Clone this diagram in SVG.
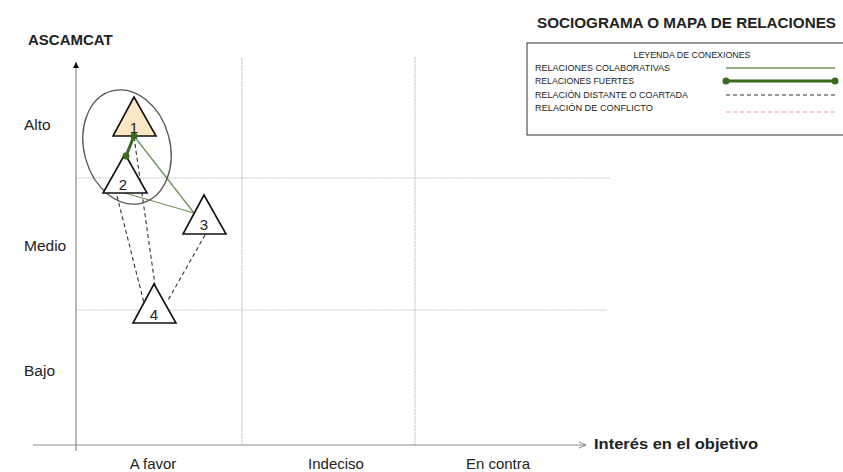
<svg xmlns="http://www.w3.org/2000/svg" width="843" height="472" viewBox="0 0 843 472">
<defs>
<style>
.t{font-family:"Liberation Sans",Arial,sans-serif;fill:#222}
.b{font-weight:bold}
.grid{stroke:#c4c4c4;stroke-width:1.2;stroke-dasharray:1.5 0.8;fill:none}
.axis{stroke:#8a8a8a;stroke-width:1.2;fill:none}
.tri{stroke:#111;stroke-width:1.6;fill:#fff}
.collab{stroke:#6e9358;stroke-width:1.3;fill:none}
.strong{stroke:#3b6a1f;stroke-width:3;fill:none}
.dist{stroke:#333;stroke-width:1.1;stroke-dasharray:4 3;fill:none}
.conf{stroke:#f0a0a8;stroke-width:1.1;stroke-dasharray:4 3;fill:none}
.dot{fill:#3b6a1f}
.lg{font-size:8.5px}
</style>
<marker id="up" viewBox="0 0 10 10" refX="10" refY="5" markerWidth="7" markerHeight="6" orient="auto" markerUnits="userSpaceOnUse">
<path d="M0,0 L10,5 L0,10 Z" fill="#111"/>
</marker>
<marker id="open" viewBox="0 0 10 10" refX="10" refY="5" markerWidth="8" markerHeight="8" orient="auto" markerUnits="userSpaceOnUse">
<path d="M1,1 L10,5 L1,9" fill="none" stroke="#8a8a8a" stroke-width="1.2"/>
</marker>
</defs>
<rect width="843" height="472" fill="#fff"/>

<g id="grid">
<line class="grid" x1="76" y1="178" x2="610" y2="178"/>
<line class="grid" x1="76" y1="310" x2="607" y2="310"/>
<line class="grid" x1="242" y1="58" x2="242" y2="445"/>
<line class="grid" x1="415" y1="57" x2="415" y2="445"/>
</g>

<g id="axes">
<line class="axis" x1="76" y1="451" x2="76" y2="62" marker-end="url(#up)"/>
<line class="axis" x1="33" y1="445" x2="586" y2="445" marker-end="url(#open)"/>
<text class="t b" x="28" y="45" font-size="15">ASCAMCAT</text>
<text class="t" x="24" y="130" font-size="15.5">Alto</text>
<text class="t" x="24" y="251" font-size="15.5">Medio</text>
<text class="t" x="24" y="376" font-size="15.5">Bajo</text>
<text class="t" x="153" y="469" font-size="15" text-anchor="middle">A favor</text>
<text class="t" x="336" y="469" font-size="15" text-anchor="middle">Indeciso</text>
<text class="t" x="498" y="469" font-size="15" text-anchor="middle">En contra</text>
<text class="t b" x="594" y="449" font-size="15" textLength="164" lengthAdjust="spacingAndGlyphs">Interés en el objetivo</text>
</g>

<g id="legend">
<text class="t b" x="537" y="28" font-size="15" textLength="299" lengthAdjust="spacingAndGlyphs">SOCIOGRAMA O MAPA DE RELACIONES</text>
<rect x="527" y="43" width="320" height="92" fill="#fff" stroke="#333" stroke-width="1"/>
<text class="t lg" x="692" y="58" text-anchor="middle" textLength="117" lengthAdjust="spacingAndGlyphs">LEYENDA DE CONEXIONES</text>
<text class="t lg" x="535" y="71" textLength="135" lengthAdjust="spacingAndGlyphs">RELACIONES COLABORATIVAS</text>
<text class="t lg" x="535" y="84" textLength="99" lengthAdjust="spacingAndGlyphs">RELACIONES FUERTES</text>
<text class="t lg" x="535" y="97.5" textLength="153" lengthAdjust="spacingAndGlyphs">RELACIÓN DISTANTE O COARTADA</text>
<text class="t lg" x="535" y="111" textLength="118" lengthAdjust="spacingAndGlyphs">RELACIÓN DE CONFLICTO</text>
<line class="collab" x1="726" y1="68" x2="835" y2="68"/>
<line class="strong" x1="726" y1="81" x2="835" y2="81"/>
<circle class="dot" cx="726" cy="81" r="3.5"/>
<circle class="dot" cx="835" cy="81" r="3.5"/>
<line class="dist" x1="726" y1="95" x2="835" y2="95"/>
<line class="conf" x1="726" y1="112" x2="835" y2="112"/>
</g>

<g id="connectors">
<line class="dist" x1="134" y1="137" x2="155" y2="285"/>
<line class="dist" x1="117" y1="196" x2="144" y2="303"/>
<line class="dist" x1="205" y1="235" x2="167" y2="302"/>
<line class="collab" x1="134" y1="136" x2="194" y2="213"/>
<line class="collab" x1="125" y1="193" x2="194" y2="213"/>
</g>

<g id="node1">
<ellipse cx="127" cy="147" rx="43" ry="58" transform="rotate(-15 127 147)" fill="none" stroke="#555" stroke-width="1.3"/>
<polygon class="tri" points="134,97 113,136 156,136" style="fill:#fde8c3"/>
<text class="t" x="134" y="133" font-size="15" text-anchor="middle">1</text>
</g>

<g id="node2">
<polygon class="tri" points="125,154 103,193 147,193"/>
<text class="t" x="123" y="190" font-size="15" text-anchor="middle">2</text>
</g>

<g id="node3">
<polygon class="tri" points="204,195 183,234 226,234"/>
<text class="t" x="204" y="230" font-size="15" text-anchor="middle">3</text>
</g>

<g id="node4">
<polygon class="tri" points="154,284 133,323 176,323"/>
<text class="t" x="154" y="320" font-size="15" text-anchor="middle">4</text>
</g>

<g id="strong-link">
<line class="strong" x1="134" y1="136" x2="126" y2="156"/>
<circle class="dot" cx="134" cy="136" r="3.5"/>
<circle class="dot" cx="126" cy="156" r="3.5"/>
</g>
</svg>
